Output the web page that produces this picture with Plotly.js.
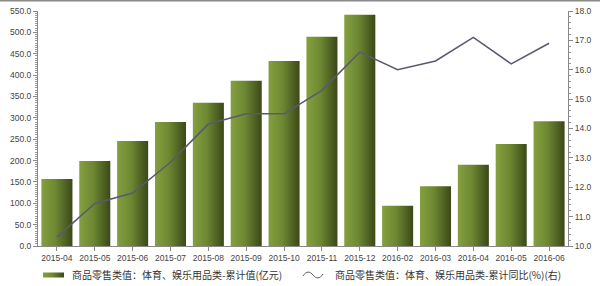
<!DOCTYPE html>
<html>
<head>
<meta charset="utf-8">
<script src="https://cdn.plot.ly/plotly-3.0.1.min.js"></script>
<style>
  html, body { margin: 0; padding: 0; background: #fff; }
  #chart { width: 600px; height: 286px; }
</style>
</head>
<body>
<div id="chart"></div>
<script>
const categories = ["2015-04","2015-05","2015-06","2015-07","2015-08","2015-09","2015-10","2015-11","2015-12","2016-02","2016-03","2016-04","2016-05","2016-06"];
const cumulativeValue = [157, 199, 246, 290, 335, 387, 433, 490, 541, 94, 140, 190, 239, 292];
const cumulativeYoY = [10.3, 11.45, 11.8, 12.85, 14.15, 14.5, 14.5, 15.3, 16.6, 16.0, 16.3, 17.1, 16.2, 16.9];
const leftTicks = [0, 50, 100, 150, 200, 250, 300, 350, 400, 450, 500, 550];
const rightTicks = [10, 11, 12, 13, 14, 15, 16, 17, 18];
const barName = "商品零售类值：体育、娱乐用品类-累计值(亿元)";
const lineName = "商品零售类值：体育、娱乐用品类-累计同比(%)(右)";

const tickFont = { family: "Liberation Sans, Arial, sans-serif", size: 8.5, color: "#444" };

const traces = [
  {
    type: "bar",
    name: barName,
    x: categories,
    y: cumulativeValue,
    marker: { color: "#6b8530", line: { width: 0 } },
    hoverinfo: "skip"
  },
  {
    type: "scatter",
    mode: "lines",
    name: lineName,
    x: categories,
    y: cumulativeYoY,
    yaxis: "y2",
    line: { color: "#5b5a6c", width: 1.6 },
    hoverinfo: "skip"
  }
];

const layout = {
  width: 600,
  height: 286,
  margin: { l: 38, r: 32, t: 11, b: 40 },
  paper_bgcolor: "#fff",
  plot_bgcolor: "#fff",
  bargap: 0.18,
  showlegend: true,
  legend: {
    orientation: "h",
    xref: "container",
    yref: "container",
    x: 32 / 600,
    xanchor: "left",
    y: 1 - 275 / 286,
    yanchor: "middle",
    font: { family: "Noto Sans CJK SC, sans-serif", size: 10, color: "#333" },
    entrywidth: 218,
    entrywidthmode: "pixels",
    traceorder: "normal",
    bgcolor: "rgba(0,0,0,0)"
  },
  xaxis: {
    type: "category",
    showgrid: false,
    showline: true,
    linecolor: "#888",
    linewidth: 1,
    ticks: "outside",
    ticklen: 4,
    tickcolor: "#888",
    tickfont: tickFont,
    zeroline: false
  },
  yaxis: {
    range: [0, 550],
    tickvals: leftTicks,
    tickformat: ".1f",
    showgrid: false,
    zeroline: false,
    showline: true,
    linecolor: "#888",
    ticks: "outside",
    ticklen: 4,
    tickcolor: "#888",
    tickfont: tickFont,
    minor: { dtick: 5, ticks: "outside", ticklen: 2, tickcolor: "#999", showgrid: false }
  },
  yaxis2: {
    overlaying: "y",
    side: "right",
    range: [10, 18],
    tickvals: rightTicks,
    tickformat: ".1f",
    showgrid: false,
    zeroline: false,
    showline: true,
    linecolor: "#888",
    ticks: "outside",
    ticklen: 4,
    tickcolor: "#888",
    tickfont: tickFont,
    minor: { dtick: 0.2, ticks: "outside", ticklen: 2, tickcolor: "#999", showgrid: false }
  },
  shapes: [
    { type: "line", xref: "paper", yref: "paper", x0: -38/530, x1: 1 + 32/530, y0: 245.5 / 235, y1: 245.5 / 235, line: { color: "#8a8a8a", width: 2 } }
  ]
};

Plotly.newPlot("chart", traces, layout, { staticPlot: true }).then(function (gd) {
  const svg = gd.querySelector(".main-svg");
  const ns = "http://www.w3.org/2000/svg";
  let defs = svg.querySelector("defs");
  if (!defs) { defs = document.createElementNS(ns, "defs"); svg.insertBefore(defs, svg.firstChild); }
  const grad = document.createElementNS(ns, "linearGradient");
  grad.setAttribute("id", "barGrad");
  grad.setAttribute("x1", "0"); grad.setAttribute("y1", "0");
  grad.setAttribute("x2", "1"); grad.setAttribute("y2", "0");
  [["0%", "#84a03f"], ["45%", "#6d8832"], ["100%", "#3b4818"]].forEach(function (s) {
    const st = document.createElementNS(ns, "stop");
    st.setAttribute("offset", s[0]);
    st.setAttribute("stop-color", s[1]);
    grad.appendChild(st);
  });
  defs.appendChild(grad);
  gd.querySelectorAll(".barlayer .point path").forEach(function (p) {
    p.style.fill = "url(#barGrad)";
  });
  // un-clip the legend so the last entry is fully visible
  gd.querySelectorAll(".legend [clip-path]").forEach(function (el) { el.removeAttribute("clip-path"); });
  const legendTraces = gd.querySelectorAll(".legend .traces");
  legendTraces.forEach(function (t, i) {
    if (i === 0) {
      t.querySelectorAll(".legendpoints path").forEach(function (p) {
        p.setAttribute("d", "M-9,-2.5H12V2.5H-9Z");
        p.style.fill = "url(#barGrad)";
        p.style.stroke = "none";
      });
    } else {
      t.querySelectorAll(".legendlines path").forEach(function (p) {
        p.setAttribute("d", "M8,1C11,-4 15,-4 18,0C21,4 25,4 28,-1");
        p.style.fill = "none";
        p.style.strokeWidth = "1px";
      });
    }
  });
});
</script>
</body>
</html>
